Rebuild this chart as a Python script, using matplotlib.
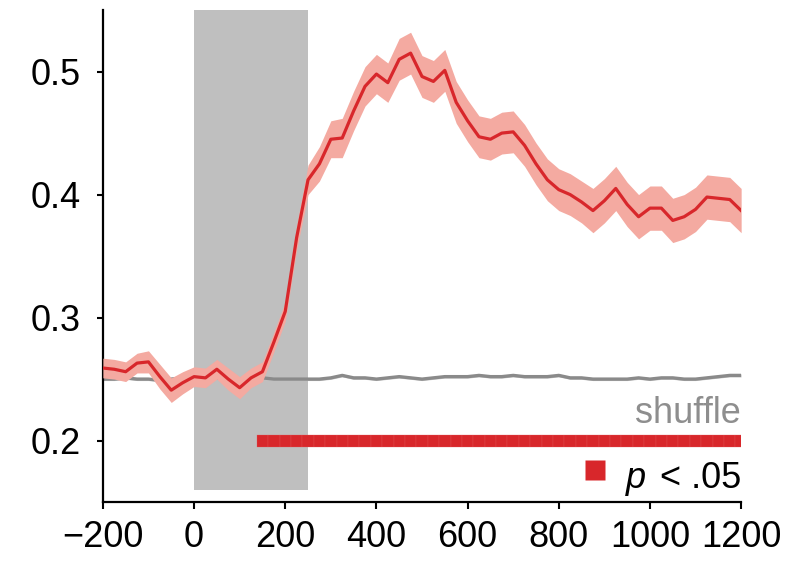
import numpy as np
import matplotlib
matplotlib.use("Agg")
import matplotlib.pyplot as plt

plt.rcParams['font.family'] = ['Liberation Sans', 'DejaVu Sans']

# time bins (ms)
times = np.arange(-200, 1201, 25)

# decoding accuracy
acc = [0.259, 0.258, 0.256, 0.263, 0.264, 0.252, 0.241, 0.247, 0.252, 0.251,
       0.258, 0.250, 0.243, 0.251, 0.256, 0.280, 0.305, 0.365, 0.412, 0.425,
       0.445, 0.446, 0.468, 0.488, 0.498, 0.491, 0.510, 0.515, 0.496, 0.492,
       0.501, 0.475, 0.460, 0.447, 0.445, 0.450, 0.451, 0.440, 0.425, 0.412,
       0.404, 0.400, 0.394, 0.387, 0.395, 0.405, 0.392, 0.382, 0.389, 0.389,
       0.379, 0.382, 0.388, 0.398, 0.397, 0.396, 0.387]
sem = [0.008, 0.008, 0.008, 0.008, 0.009, 0.010, 0.010, 0.009, 0.008, 0.008,
       0.008, 0.009, 0.009, 0.008, 0.008, 0.008, 0.008, 0.010, 0.012, 0.014,
       0.015, 0.016, 0.016, 0.016, 0.016, 0.016, 0.017, 0.017, 0.017, 0.017,
       0.017, 0.017, 0.017, 0.017, 0.017, 0.017, 0.017, 0.017, 0.017, 0.017,
       0.017, 0.017, 0.017, 0.018, 0.018, 0.018, 0.018, 0.018, 0.018, 0.018,
       0.018, 0.018, 0.018, 0.018, 0.018, 0.018, 0.018]

# shuffled-label baseline
shuf = [0.250, 0.250, 0.251, 0.250, 0.250, 0.249, 0.250, 0.251, 0.250, 0.250,
        0.251, 0.250, 0.250, 0.250, 0.251, 0.250, 0.250, 0.250, 0.250, 0.250,
        0.251, 0.253, 0.251, 0.251, 0.250, 0.251, 0.252, 0.251, 0.250, 0.251,
        0.252, 0.252, 0.252, 0.253, 0.252, 0.252, 0.253, 0.252, 0.252, 0.252,
        0.253, 0.251, 0.251, 0.250, 0.250, 0.250, 0.250, 0.251, 0.250, 0.251,
        0.251, 0.250, 0.250, 0.251, 0.252, 0.253, 0.253]

sig_onset = 150      # first significant bin (p < .05)
stim_on, stim_off = 0, 250

red = '#d8272b'
band = '#f4aaa1'
gray = '#8a8a8a'

acc = np.array(acc)
sem = np.array(sem)
shuf = np.array(shuf)

fig = plt.figure(figsize=(8.1, 5.61), dpi=100)
ax = fig.add_axes([0.127, 0.105, 0.788, 0.877])

# stimulus period
ax.fill_between([stim_on, stim_off], 0.16, 0.55, color='#bfbfbf', lw=0, zorder=0)

# shuffle
ax.fill_between(times, shuf - 0.0012, shuf + 0.0012, color='#c8c8c8', lw=0, zorder=1)
ax.plot(times, shuf, color=gray, lw=2.4, zorder=2)

# accuracy
ax.fill_between(times, acc - sem, acc + sem, color=band, lw=0, zorder=3)
ax.plot(times, acc, color=red, lw=2.3, zorder=4)

# significance bar
sig_t = times[times >= sig_onset]
ax.bar(sig_t, 0.0098, width=25, bottom=0.2 - 0.0049, color=red,
       edgecolor='#e55a5c', linewidth=0.2, zorder=4)

ax.text(1200, 0.2147, 'shuffle', ha='right', va='baseline', color='#8e8e8e', fontsize=26)
t1 = ax.text(1200, 0.1615, '< .05', ha='right', va='baseline', color='black', fontsize=26)
fig.canvas.draw()
bb = t1.get_window_extent().transformed(ax.transData.inverted())
t2 = ax.text(bb.x0 - 10, 0.1615, 'p', ha='right', va='baseline', color='black',
             fontsize=26, style='italic')
ax.plot([880], [0.1765], marker='s', ms=14, color=red, mec='none', clip_on=False)

ax.set_xlim(-200, 1200)
ax.set_ylim(0.15, 0.55)
ax.set_xticks([-200, 0, 200, 400, 600, 800, 1000, 1200])
ax.set_xticklabels(['\u2212200', '0', '200', '400', '600', '800', '1000', '1200'])
ax.set_yticks([0.2, 0.3, 0.4, 0.5])
ax.set_yticklabels(['0.2', '0.3', '0.4', '0.5'])
for s in ['top', 'right']:
    ax.spines[s].set_visible(False)
for s in ['left', 'bottom']:
    ax.spines[s].set_linewidth(1.6)
ax.tick_params(axis='both', direction='out', width=1.5, labelsize=26)
ax.tick_params(axis='x', length=5, pad=8)
ax.tick_params(axis='y', length=4, pad=12)

fig.savefig('out.png', dpi=100)
